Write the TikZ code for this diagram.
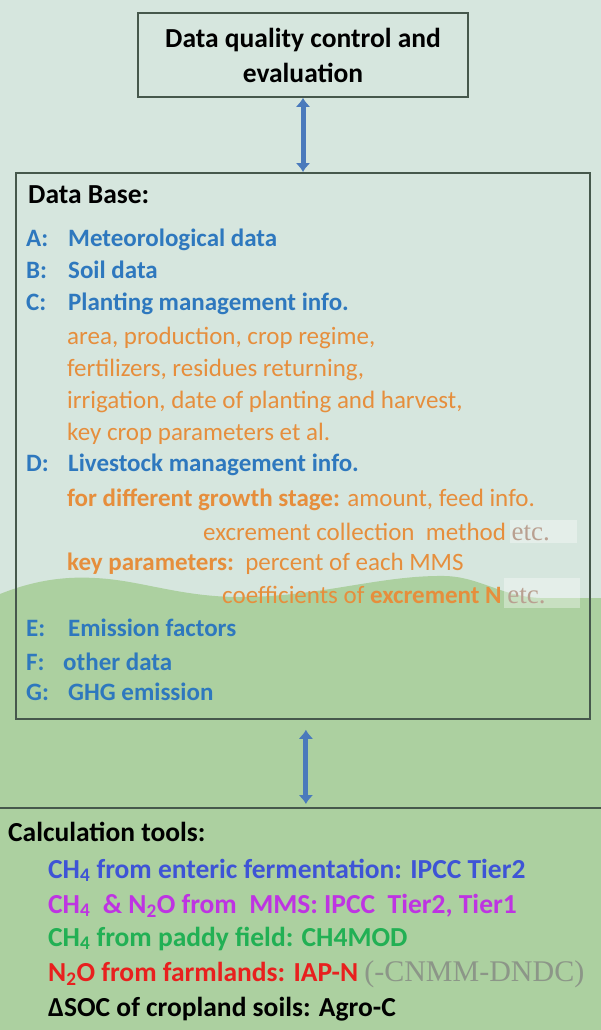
\documentclass[tikz,border=0pt]{standalone}
\usepackage{fontspec}
\setmainfont{Carlito}
\newfontfamily\timesfont{Liberation Serif}
\usetikzlibrary{arrows.meta}

\definecolor{bgmint}{RGB}{214,230,222}
\definecolor{hillgreen}{RGB}{172,208,160}
\definecolor{boxline}{RGB}{70,88,76}
\definecolor{dbblue}{RGB}{46,120,190}
\definecolor{noteorange}{RGB}{230,142,60}
\definecolor{etcgray}{RGB}{185,160,145}
\definecolor{arrowblue}{RGB}{74,122,188}
\definecolor{toolblue}{RGB}{62,84,214}
\definecolor{toolmagenta}{RGB}{190,52,226}
\definecolor{toolgreen}{RGB}{34,176,84}
\definecolor{toolred}{RGB}{232,32,30}
\definecolor{toolgray}{RGB}{140,150,136}

\newcommand\lbl[1]{\makebox[42pt][l]{#1}}

\begin{document}
\begin{tikzpicture}[x=1pt,y=-1pt,
  box/.style={draw=boxline, line width=1.8pt, inner sep=0pt},
  head/.style={anchor=base west, inner sep=0pt, font=\fontsize{27.5}{35}\selectfont\bfseries},
  entry/.style={anchor=base west, inner sep=0pt, text=dbblue, font=\fontsize{25}{30}\selectfont\bfseries},
  note/.style={anchor=base west, inner sep=0pt, text=noteorange, font=\fontsize{25}{30}\selectfont},
  tool/.style={anchor=base west, inner sep=0pt, font=\fontsize{27.5}{35}\selectfont\bfseries},
  etcbox/.style={fill=white, opacity=0.35},
  dblarrow/.style={{Latex[length=9pt,width=15pt]}-{Latex[length=9pt,width=15pt]}, line width=5pt, draw=arrowblue}]
\useasboundingbox (0,0) rectangle (601,1030);
%background and hills
\fill[bgmint] (0,0) rectangle (601,1030);
\fill[hillgreen] (0,594) .. controls (30,582) and (60,576) .. (95,578)
  .. controls (140,580) and (180,597) .. (240,597)
  .. controls (320,597) and (380,575) .. (445,576)
  .. controls (480,577) and (500,596) .. (540,598)
  -- (601,598) -- (601,1030) -- (0,1030) -- cycle;
\fill[etcbox] (510,520) rectangle (577,543);
\fill[etcbox] (504,578) rectangle (580,608);

%boxes
\node[box, minimum width=330, minimum height=84, align=center,
  font=\fontsize{27.5}{35}\selectfont\bfseries] (quality) at (303,55) {Data quality control and\\evaluation};
\node[box, minimum width=574, minimum height=546, anchor=north west] (database) at (15,172) {};
\node[box, minimum width=620, minimum height=250, anchor=north west] (calc) at (-5,807) {};

%arrows
\draw[dblarrow] (quality.south) -- (quality.south |- database.north);
\draw[dblarrow, shorten <=10pt, shorten >=3pt] (database.south -| calc.north) -- (calc.north);

%data base
\node[head] (dbTitle) at (28,203) {Data Base:};
\node[entry] (dbA) at (26,246) {\lbl{A:}Meteorological data};
\node[entry] (dbB) at (26,278) {\lbl{B:}Soil data};
\node[entry] (dbC) at (26,310) {\lbl{C:}Planting management info.};
\node[note] (cArea) at (67,344) {area, production, crop regime,};
\node[note] (cFert) at (67,376) {fertilizers, residues returning,};
\node[note] (cIrrig) at (67,408) {irrigation, date of planting and harvest,};
\node[note] (cKey) at (67,440) {key crop parameters et al.};
\node[entry] (dbD) at (26,471) {\lbl{D:}Livestock management info.};
\node[note] (dStage) at (67,506) {\textbf{for different growth stage:} amount, feed info.};
\node[note] (dMethod) at (203,540) {excrement collection\ \ method {\timesfont\fontsize{27}{30}\selectfont\color{etcgray}etc.}};
\node[note] (dParam) at (67,570) {\textbf{key parameters:}\ \ percent of each MMS};
\node[note] (dCoef) at (222,603) {coefficients of \textbf{excrement N} {\timesfont\fontsize{27}{30}\selectfont\color{etcgray}etc.}};
\node[entry] (dbE) at (26,636) {\lbl{E:}Emission factors};
\node[entry] (dbF) at (26,670) {\makebox[37pt][l]{F:}other data};
\node[entry] (dbG) at (26,700) {\lbl{G:}GHG emission};

%calculation tools
\node[head] (calcTitle) at (8,841) {Calculation tools:};
\node[tool, text=toolblue] (toolEnteric) at (48,878) {CH\textsubscript{4} from enteric fermentation: IPCC Tier2};
\node[tool, text=toolmagenta] (toolMMS) at (48,913) {CH\textsubscript{4}\ \ \& N\textsubscript{2}O from\ \ MMS: IPCC\ \ Tier2, Tier1};
\node[tool, text=toolgreen] (toolPaddy) at (48,946) {CH\textsubscript{4} from paddy field: CH4MOD};
\node[tool, text=toolred] (toolFarm) at (48,981) {N\textsubscript{2}O from farmlands: IAP-N {\timesfont\mdseries\fontsize{30}{35}\selectfont\color{toolgray}(-CNMM-DNDC)}};
\node[tool, text=black] (toolSOC) at (48,1016) {ΔSOC of cropland soils: Agro-C};
\end{tikzpicture}
\end{document}
